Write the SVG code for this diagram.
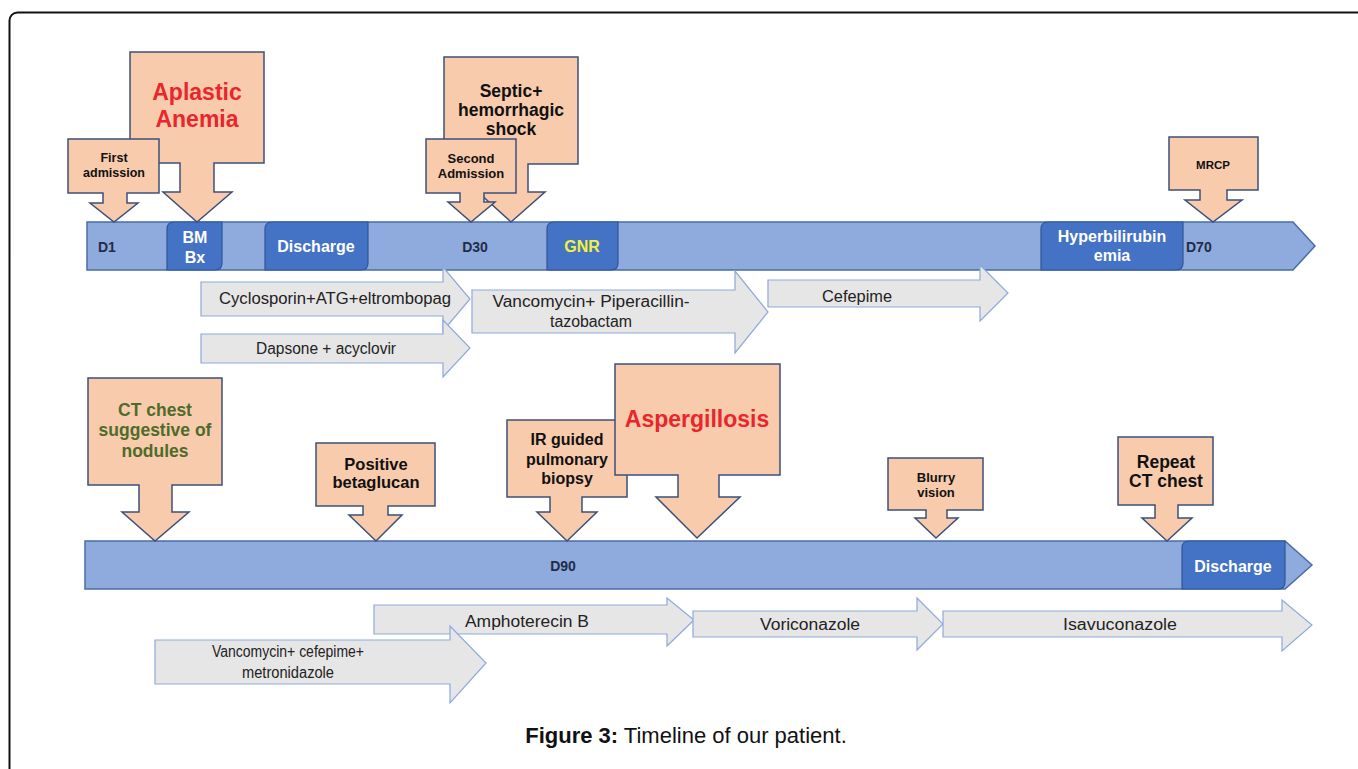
<svg xmlns="http://www.w3.org/2000/svg" width="1358" height="769" viewBox="0 0 1358 769">
<style>
.frame{fill:none;stroke:#111;stroke-width:2}
.bar{fill:#8FAADC;stroke:#4A6DA7;stroke-width:1.5}
.dark{fill:#4472C4;stroke:#2F5597;stroke-width:1.2}
.call{fill:#F8CBAD;stroke:#3E5079;stroke-width:1.5}
.med{fill:#E7E6E6;stroke:#8EA9DB;stroke-width:1.2}
.bt{font-family:"Liberation Sans",Arial,sans-serif;font-weight:bold;fill:#1F2D4A;font-size:14px}
.wt{font-family:"Liberation Sans",Arial,sans-serif;font-weight:bold;fill:#FFFFFF;font-size:16px;text-anchor:middle}
.ct{font-family:"Liberation Sans",Arial,sans-serif;font-weight:bold;fill:#111;text-anchor:middle}
.red{fill:#E8262B}
.grn{fill:#4E6B2A}
.mt{font-family:"Liberation Sans Narrow","Liberation Sans",Arial,sans-serif;font-size:16px;fill:#222;text-anchor:middle}
.cap{font-family:"Liberation Sans",Arial,sans-serif;font-size:22px;fill:#111}
</style>
<rect class="frame" x="9.5" y="12.5" width="1362" height="772" rx="8"/>

<g id="timeline-top">
<path class="bar" d="M87 222 H1293 L1315 246 L1293 270 H87 Z"/>
<path id="bm-box" class="dark" d="M174 222 H222 V263 Q222 270 215 270 H167 V229 Q167 222 174 222 Z"/>
<path id="discharge1-box" class="dark" d="M272 222 H368 V263 Q368 270 361 270 H265 V229 Q265 222 272 222 Z"/>
<path id="gnr-box" class="dark" d="M554 222 H618 V263 Q618 270 611 270 H547 V229 Q547 222 554 222 Z"/>
<path id="hyper-box" class="dark" d="M1048 222 H1183 V263 Q1183 270 1176 270 H1041 V229 Q1041 222 1048 222 Z"/>
<text class="bt" x="98" y="252">D1</text>
<text class="wt" x="195" y="243">BM</text>
<text class="wt" x="195" y="263">Bx</text>
<text class="wt" x="316" y="252">Discharge</text>
<text class="bt" x="475" y="252" text-anchor="middle">D30</text>
<text class="wt" x="582" y="252" style="fill:#F2F23C">GNR</text>
<text class="wt" x="1112" y="242">Hyperbilirubin</text>
<text class="wt" x="1112" y="261">emia</text>
<text class="bt" x="1186" y="252">D70</text>
</g>

<g id="timeline-bottom">
<path class="bar" d="M85 541 H1285 L1312 565 L1285 589 H85 Z"/>
<path id="discharge2-box" class="dark" d="M1189 541 H1285 V582 Q1285 589 1278 589 H1182 V548 Q1182 541 1189 541 Z"/>
<text class="bt" x="563" y="571" text-anchor="middle">D90</text>
<text class="wt" x="1233" y="572">Discharge</text>
</g>

<g id="callout-aplastic">
<path class="call" d="M130 52 H264 V163 H214 V192 H232 L197 222 L163 192 H180 V163 H130 Z"/>
<text class="ct red" font-size="23" x="197" y="100">Aplastic</text>
<text class="ct red" font-size="23" x="197" y="127">Anemia</text>
</g>
<g id="callout-first">
<path class="call" d="M68 139 H159 V193 H127 V203 H138 L114 222 L90 203 H103 V193 H68 Z"/>
<text class="ct" font-size="12.5" x="114" y="162">First</text>
<text class="ct" font-size="12.5" x="114" y="177">admission</text>
</g>
<g id="callout-septic">
<path class="call" d="M444 57 H578 V164 H528 V192 H545 L511 222 L478 192 H493 V164 H444 Z"/>
<text class="ct" font-size="17.5" x="511" y="97">Septic+</text>
<text class="ct" font-size="17.5" x="511" y="116">hemorrhagic</text>
<text class="ct" font-size="17.5" x="511" y="135">shock</text>
</g>
<g id="callout-second">
<path class="call" d="M426 139 H516 V193 H484 V202 H495 L471 222 L448 202 H460 V193 H426 Z"/>
<text class="ct" font-size="13" x="471" y="163">Second</text>
<text class="ct" font-size="13" x="471" y="178">Admission</text>
</g>
<g id="callout-mrcp">
<path class="call" d="M1169 137 H1258 V190 H1227 V200 H1242 L1213 222 L1185 200 H1200 V190 H1169 Z"/>
<text class="ct" font-size="11.5" x="1213" y="169">MRCP</text>
</g>

<g id="callout-ct">
<path class="call" d="M88 378 H222 V485 H172 V512 H189 L155 541 L122 512 H139 V485 H88 Z"/>
<text class="ct grn" font-size="17.5" x="155" y="416">CT chest</text>
<text class="ct grn" font-size="17.5" x="155" y="436">suggestive of</text>
<text class="ct grn" font-size="17.5" x="155" y="457">nodules</text>
</g>
<g id="callout-betaglucan">
<path class="call" d="M316 443 H435 V506 H388 V515 H402 L376 541 L349 515 H363 V506 H316 Z"/>
<text class="ct" font-size="16.5" x="376" y="470">Positive</text>
<text class="ct" font-size="16.5" x="376" y="488">betaglucan</text>
</g>
<g id="callout-ir">
<path class="call" d="M507 420 H627 V497 H582 V512 H597 L567 541 L537 512 H550 V497 H507 Z"/>
<text class="ct" font-size="16" x="567" y="445">IR guided</text>
<text class="ct" font-size="16" x="567" y="465">pulmonary</text>
<text class="ct" font-size="16" x="567" y="484">biopsy</text>
</g>
<g id="callout-aspergillosis">
<path class="call" d="M615 364 H780 V475 H719 V497 H740 L697 538 L656 497 H678 V475 H615 Z"/>
<text class="ct red" font-size="23" x="697" y="427">Aspergillosis</text>
</g>
<g id="callout-blurry">
<path class="call" d="M888 458 H983 V510 H947 V518 H958 L936 538 L915 518 H926 V510 H888 Z"/>
<text class="ct" font-size="13" x="936" y="482">Blurry</text>
<text class="ct" font-size="13" x="936" y="497">vision</text>
</g>
<g id="callout-repeat">
<path class="call" d="M1118 437 H1213 V505 H1178 V518 H1192 L1167 541 L1142 518 H1155 V505 H1118 Z"/>
<text class="ct" font-size="17.5" x="1166" y="468">Repeat</text>
<text class="ct" font-size="17.5" x="1166" y="487">CT chest</text>
</g>

<g id="meds-top">
<g id="med-cyclosporin">
<path class="med" d="M201 282 H443 V267 L470 299 L443 331 V316 H201 Z"/>
<text class="mt" x="335" y="304" textLength="232" lengthAdjust="spacingAndGlyphs">Cyclosporin+ATG+eltrombopag</text>
</g>
<g id="med-dapsone">
<path class="med" d="M201 334 H443 V320 L470 348 L443 377 V363 H201 Z"/>
<text class="mt" x="326" y="354" textLength="140" lengthAdjust="spacingAndGlyphs">Dapsone + acyclovir</text>
</g>
<g id="med-vanc-pip">
<path class="med" d="M472 290 H735 V271 L768 312 L735 353 V333 H472 Z"/>
<text class="mt" x="591" y="307" textLength="197" lengthAdjust="spacingAndGlyphs">Vancomycin+ Piperacillin-</text>
<text class="mt" x="591" y="327" textLength="82" lengthAdjust="spacingAndGlyphs">tazobactam</text>
</g>
<g id="med-cefepime">
<path class="med" d="M768 280 H980 V265 L1008 293 L980 321 V307 H768 Z"/>
<text class="mt" x="857" y="302" textLength="70" lengthAdjust="spacingAndGlyphs">Cefepime</text>
</g>
</g>

<g id="meds-bottom">
<g id="med-ampho">
<path class="med" d="M374 605 H667 V598 L694 620 L667 646 V634 H374 Z"/>
<text class="mt" x="527" y="627" textLength="124" lengthAdjust="spacingAndGlyphs">Amphoterecin B</text>
</g>
<g id="med-vanc-cef">
<path class="med" d="M155 640 H450 V626 L486 663 L450 703 V684 H155 Z"/>
<text class="mt" x="288" y="657" textLength="152" lengthAdjust="spacingAndGlyphs">Vancomycin+ cefepime+</text>
<text class="mt" x="288" y="678" textLength="92" lengthAdjust="spacingAndGlyphs">metronidazole</text>
</g>
<g id="med-vori">
<path class="med" d="M693 611 H917 V598 L943 624 L917 650 V637 H693 Z"/>
<text class="mt" x="810" y="630" textLength="100" lengthAdjust="spacingAndGlyphs">Voriconazole</text>
</g>
<g id="med-isavu">
<path class="med" d="M943 611 H1282 V600 L1312 625 L1282 651 V637 H943 Z"/>
<text class="mt" x="1120" y="630" textLength="114" lengthAdjust="spacingAndGlyphs">Isavuconazole</text>
</g>
</g>

<text class="cap" x="686" y="743" text-anchor="middle"><tspan font-weight="bold">Figure 3:</tspan> Timeline of our patient.</text>
</svg>
